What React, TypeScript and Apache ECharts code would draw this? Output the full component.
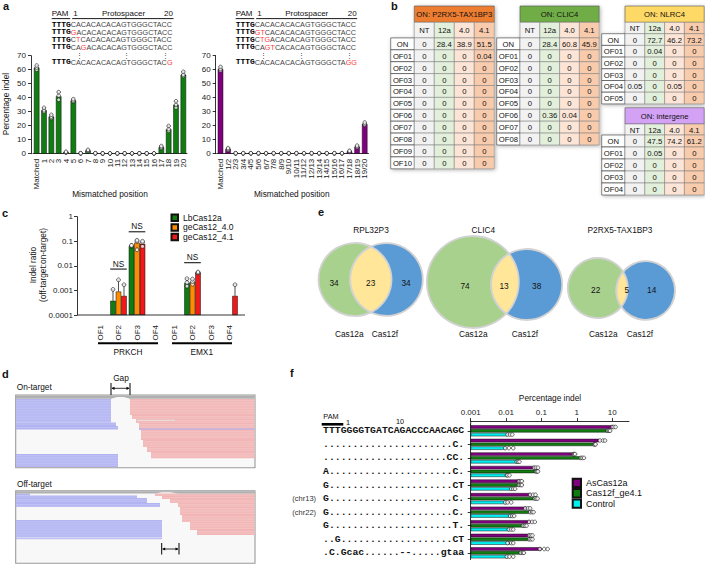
import React, { useEffect, useRef } from 'react';
import * as echarts from 'echarts';

const SANS = '"Liberation Sans", Arial, Helvetica, sans-serif';
const MONO = '"Liberation Mono", "Courier New", monospace';

const GREEN = '#0f7d0f';
const PURPLE = '#800080';
const ORANGE = '#ff8c00';
const RED = '#f01818';
const CYAN = '#00f0f0';

// ---------------- panel a ----------------
const aLeftCategories = ['Matched', '1', '2', '3', '4', '5', '6', '7', '8', '9', '10', '11', '12', '13', '14', '15', '16', '17', '18', '19', '20'];
const aLeftPercent = [61.5, 31, 26.5, 41, 1, 38, 0.3, 2.2, 0.3, 0.2, 0.2, 0.2, 0.2, 0.2, 0.2, 0.2, 0.2, 4.6, 17.5, 35, 56.5];
const aLeftReplicates = [
  [60, 61.5, 63], [30, 31, 32.8], [25.5, 26.5, 27.8], [38.5, 41.5, 44], [0.7, 1, 1.4], [37.3, 38, 39],
  [0.2, 0.3, 0.4], [1.8, 2.2, 2.8], [0.2, 0.3, 0.4], [0.1, 0.2, 0.3], [0.1, 0.2, 0.3], [0.1, 0.2, 0.3],
  [0.1, 0.2, 0.3], [0.1, 0.2, 0.3], [0.1, 0.2, 0.3], [0.1, 0.2, 0.3], [0.1, 0.2, 0.3],
  [4, 4.6, 5.5], [16.3, 17.5, 19.8], [33, 35, 37.5], [55.5, 56.5, 58.5],
];
const aRightCategories = ['Matched', '1/2', '2/3', '3/4', '4/5', '5/6', '6/7', '7/8', '8/9', '9/10', '10/11', '11/12', '12/13', '13/14', '14/15', '15/16', '16/17', '17/18', '18/19', '19/20'];
const aRightPercent = [60.5, 3.3, 0.3, 0.3, 0.3, 0.3, 0.3, 0.3, 0.3, 0.3, 0.3, 0.3, 0.3, 0.3, 0.3, 0.3, 0.3, 1.6, 5, 21.2];
const aRightReplicates = [
  [59.5, 60.5, 62], [2.6, 3.3, 4], [0.2, 0.3, 0.4], [0.2, 0.3, 0.4], [0.2, 0.3, 0.4], [0.2, 0.3, 0.4],
  [0.2, 0.3, 0.4], [0.2, 0.3, 0.4], [0.2, 0.3, 0.4], [0.2, 0.3, 0.4], [0.2, 0.3, 0.4], [0.2, 0.3, 0.4],
  [0.2, 0.3, 0.4], [0.2, 0.3, 0.4], [0.2, 0.3, 0.4], [0.2, 0.3, 0.4], [0.2, 0.3, 0.4],
  [1.2, 1.6, 2.1], [4.4, 5, 5.8], [20.5, 21.2, 22.3],
];
const pamSeq = 'TTTG';
const aLeftSeqRows = [
  ['CACACACACAGTGGGCTACC', '', ''],
  ['', 'G', 'ACACACACAGTGGGCTACC'],
  ['C', 'T', 'CACACACAGTGGGCTACC'],
  ['CA', 'G', 'ACACACAGTGGGCTACC'],
  null,
  ['CACACACACAGTGGGCTAC', 'G', ''],
];
const aRightSeqRows = [
  ['CACACACACAGTGGGCTACC', '', ''],
  ['', 'GT', 'CACACACAGTGGGCTACC'],
  ['C', 'TG', 'ACACACAGTGGGCTACC'],
  ['CA', 'GT', 'CACACAGTGGGCTACC'],
  null,
  ['CACACACACAGTGGGCTA', 'GG', ''],
];

// ---------------- panel b ----------------
const tableColumns = ['NT', '12a', '4.0', '4.1'];
const tP2rx5Title = 'ON: P2RX5-TAX1BP3';
const tP2rx5Rows = ['ON', 'OF01', 'OF02', 'OF03', 'OF04', 'OF05', 'OF06', 'OF07', 'OF08', 'OF09', 'OF10'];
const tP2rx5Values = [[0, 28.4, 38.9, 51.5], [0, 0, 0, 0.04], [0, 0, 0, 0], [0, 0, 0, 0], [0, 0, 0, 0], [0, 0, 0, 0], [0, 0, 0, 0], [0, 0, 0, 0], [0, 0, 0, 0], [0, 0, 0, 0], [0, 0, 0, 0]];
const tClic4Title = 'ON: CLIC4';
const tClic4Rows = ['ON', 'OF01', 'OF02', 'OF03', 'OF04', 'OF05', 'OF06', 'OF07', 'OF08'];
const tClic4Values = [[0, 28.4, 60.8, 45.9], [0, 0, 0, 0], [0, 0, 0, 0], [0, 0, 0, 0], [0, 0, 0, 0], [0, 0, 0, 0], [0, 0.36, 0.04, 0], [0, 0, 0, 0], [0, 0, 0, 0]];
const tNlrc4Title = 'ON: NLRC4';
const tNlrc4Rows = ['ON', 'OF01', 'OF02', 'OF03', 'OF04', 'OF05'];
const tNlrc4Values = [[0, 72.7, 46.2, 73.2], [0, 0.04, 0, 0], [0, 0, 0, 0], [0, 0, 0, 0], [0.05, 0, 0.05, 0], [0, 0, 0, 0]];
const tInterTitle = 'ON: intergene';
const tInterRows = ['ON', 'OF01', 'OF02', 'OF03', 'OF04'];
const tInterValues = [[0, 47.5, 74.2, 61.2], [0, 0.05, 0, 0], [0, 0, 0, 0], [0, 0, 0, 0], [0, 0, 0, 0]];

// ---------------- panel c ----------------
const cCategories = ['OF1', 'OF2', 'OF3', 'OF4', 'OF1', 'OF2', 'OF3', 'OF4'];
const cGenes = ['PRKCH', 'EMX1'];
const cLegendNames = ['LbCas12a', 'geCas12_4.0', 'geCas12_4.1'];
const cLbRatio = [null, 0.00038, 0.065, null, null, 0.002, null, null];
const c40Ratio = [null, 0.0009, 0.088, null, null, 0.0022, null, null];
const c41Ratio = [null, 0.0006, 0.079, null, null, 0.0053, null, 0.0006];
const cLbReps = [[], [0.0011], [0.063, 0.066, 0.068], [], [], [0.0015, 0.0021, 0.003], [], []];
const c40Reps = [[], [0.0027], [0.045, 0.1, 0.11], [], [], [0.0018, 0.0023, 0.0029], [], []];
const c41Reps = [[], [0.0017], [0.062, 0.09, 0.1], [], [], [0.005, 0.0053, 0.0056], [], [0.0017]];
const cNsMarks = [[1, 0.0074], [2, 0.243], [5, 0.0134]];

// ---------------- panel e ----------------
const vennTitles = ['RPL32P3', 'CLIC4', 'P2RX5-TAX1BP3'];
const vennCas12aOnly = [34, 74, 22];
const vennShared = [23, 13, 5];
const vennCas12fOnly = [34, 38, 14];

// ---------------- panel f ----------------
const fRowIds = ['r1', 'r2', 'r3', 'r4', 'r5', 'r6', 'r7', 'r8', 'r9', 'r10'];
const fSequences = [
  'TTTGGGGTGATCAGACCCAACAGC',
  '......................C.',
  '.....................CC.',
  'A.....................C.',
  'G.....................CT',
  'G.....................C.',
  'G.....................C.',
  'G.....................T.',
  '..G...................CT',
  '.C.Gcac......--.....gtaa',
];
const fChrTags = ['', '', '', '', '', '(chr13)', '(chr22)', '', '', ''];
const fLegendNames = ['AsCas12a', 'Cas12f_ge4.1', 'Control'];
const fAsCas12a = [10.2, 4.3, 0.83, 0.065, 0.024, 0.05, 0.038, 0.049, 0.047, 0.1];
const fCas12f = [7.7, 3.25, 1.37, 0.073, 0.025, 0.07, 0.05, 0.034, 0.047, 0.028];
const fControl = [0.011, 0.0099, 0.021, 0.0104, 0.015, 0.0104, 0.0144, 0.0123, 0.0129, 0.0115];
const fAsReps = [[10, 11, 12.5], [4.5, 5.5, 6.3], [0.8, 0.85, 0.9], [0.062, 0.07, 0.08], [0.023, 0.026, 0.028], [0.048, 0.058, 0.068], [0.035, 0.042, 0.048], [0.045, 0.055, 0.065], [0.045, 0.05, 0.056], [0.09, 0.12, 0.15]];
const fCas12fReps = [[7.5, 8.2, 8.8], [3.1, 3.3, 3.4], [1.3, 1.45, 1.6], [0.07, 0.075, 0.08], [0.023, 0.026, 0.028], [0.065, 0.072, 0.078], [0.048, 0.055, 0.06], [0.03, 0.034, 0.038], [0.045, 0.05, 0.056], [0.026, 0.03, 0.032]];
const fControlReps = [[0.011, 0.013, 0.015], [0.0095, 0.012, 0.016], [0.02, 0.022, 0.024], [0.0105, 0.011, 0.0125], [0.014, 0.016, 0.018], [0.0095, 0.011, 0.014], [0.013, 0.015, 0.017], [0.012, 0.014, 0.016], [0.011, 0.014, 0.016], [0.0105, 0.0125, 0.016]];
const fTicks = [0.001, 0.01, 0.1, 1, 10];

// ---------------- helpers ----------------
const txt = (x: number, y: number, text: string, o: any = {}) => ({
  type: 'text', x, y, rotation: o.rotation || 0, scaleX: o.scaleX || 1, z: 20,
  style: {
    text, fill: o.fill || '#111', fontSize: o.size || 8, fontFamily: o.family || SANS,
    fontWeight: o.weight || 'normal', textAlign: o.align || 'center', textVerticalAlign: o.valign || 'middle',
    ...(o.rich ? { rich: o.rich } : {}),
  },
});
const ln = (x1: number, y1: number, x2: number, y2: number, stroke = '#000', lineWidth = 0.8) => ({
  type: 'line', z: 15, shape: { x1, y1, x2, y2 }, style: { stroke, lineWidth },
});
const rc = (x: number, y: number, width: number, height: number, fill: string, stroke: any = null, lineWidth = 0.6, extra: any = {}) => ({
  type: 'rect', z: 12, shape: { x, y, width, height }, style: { fill, stroke, lineWidth, ...extra },
});
const logFmt = (v: number) => String(Number(Number(v).toPrecision(1)));

function vErr(dx: number) {
  return (_p: any, api: any) => {
    const i = api.value(0);
    const lo = api.coord([i, api.value(1)]);
    const hi = api.coord([i, api.value(2)]);
    const x = lo[0] + dx;
    return {
      type: 'group', children: [
        { type: 'line', shape: { x1: x, y1: lo[1], x2: x, y2: hi[1] }, style: { stroke: '#000', lineWidth: 0.7 } },
        { type: 'line', shape: { x1: x - 1.6, y1: hi[1], x2: x + 1.6, y2: hi[1] }, style: { stroke: '#000', lineWidth: 0.7 } },
      ],
    };
  };
}
const errData = (means: (number | null)[], reps: number[][]) =>
  means.map((m, i) => {
    if (m == null || !reps[i].length) return null;
    const hi = Math.max(...reps[i]);
    return hi > m ? [i, m, hi] : null;
  }).filter(Boolean);
const repPointsV = (reps: number[][]) => reps.flatMap((r, i) => r.map((v) => [i, v]));
const repPointsH = (reps: number[][]) => reps.flatMap((r, i) => r.map((v) => [v, i]));

function lensPoints(x1: number, y1: number, r1: number, x2: number, y2: number, r2: number) {
  const dx = x2 - x1, dy = y2 - y1, d = Math.hypot(dx, dy);
  const a = (r1 * r1 - r2 * r2 + d * d) / (2 * d);
  const base = Math.atan2(dy, dx);
  const al1 = Math.acos(a / r1);
  const al2 = Math.acos((d - a) / r2);
  const pts: number[][] = [];
  const N = 40;
  for (let i = 0; i <= N; i++) {
    const t = base - al1 + (2 * al1 * i) / N;
    pts.push([x1 + r1 * Math.cos(t), y1 + r1 * Math.sin(t)]);
  }
  const b2 = base + Math.PI;
  for (let i = 0; i <= N; i++) {
    const t = b2 - al2 + (2 * al2 * i) / N;
    pts.push([x2 + r2 * Math.cos(t), y2 + r2 * Math.sin(t)]);
  }
  return pts;
}

const colFills = ['#f2f2f2', '#e2efda', '#fce4d6', '#f8cbad'];
function tableEls(x0: number, top: number, labelW: number, colW: number, titleH: number, hdrH: number, rowH: number,
  title: string, titleColor: string, rows: string[], values: number[][]) {
  const els: any[] = [];
  const dataX = x0 + labelW;
  const totalW = colW * tableColumns.length;
  const bodyTop = top + titleH + hdrH;
  const shadow = { shadowBlur: 4, shadowColor: 'rgba(0,0,0,0.35)', shadowOffsetX: 1, shadowOffsetY: 1 };
  els.push(rc(x0, bodyTop, labelW + totalW, rows.length * rowH, '#fff', null, 0, shadow));
  els.push(rc(dataX, top, totalW, titleH + hdrH, '#fff', null, 0, shadow));
  els.push(rc(dataX, top, totalW, titleH, titleColor, '#555', 0.6));
  els.push(txt(dataX + totalW / 2, top + titleH / 2 + 0.5, title, { size: 7.7 }));
  tableColumns.forEach((c, j) => {
    els.push(rc(dataX + j * colW, top + titleH, colW, hdrH, colFills[j], '#777', 0.5));
    els.push(txt(dataX + j * colW + colW / 2, top + titleH + hdrH / 2 + 0.5, c, { size: 7.7 }));
  });
  rows.forEach((r, i) => {
    const y = bodyTop + i * rowH;
    els.push(rc(x0, y, labelW, rowH, '#fff', '#333', 0.6));
    els.push(txt(x0 + labelW / 2, y + rowH / 2 + 0.5, r, { size: 7.7 }));
    values[i].forEach((v, j) => {
      els.push(rc(dataX + j * colW, y, colW, rowH, colFills[j], '#777', 0.5));
      els.push(txt(dataX + j * colW + colW / 2, y + rowH / 2 + 0.5, String(v), { size: 7.7 }));
    });
  });
  return els;
}

function readBlock(x0: number, y0: number, x1: number, y1: number, color: string) {
  const els: any[] = [rc(x0, y0, x1 - x0, y1 - y0, color)];
  for (let y = y0 + 1.6; y < y1 - 0.4; y += 1.6) els.push(ln(x0, y, x1, y, 'rgba(255,255,255,0.45)', 0.4));
  return els;
}
function dblArrow(xa: number, xb: number, y: number, yTop: number, yBot: number) {
  return [
    ln(xa, yTop, xa, yBot, '#000', 1), ln(xb, yTop, xb, yBot, '#000', 1), ln(xa + 1, y, xb - 1, y, '#000', 0.8),
    { type: 'polygon', z: 15, shape: { points: [[xa + 0.5, y], [xa + 3.5, y - 1.6], [xa + 3.5, y + 1.6]] }, style: { fill: '#000' } },
    { type: 'polygon', z: 15, shape: { points: [[xb - 0.5, y], [xb - 3.5, y - 1.6], [xb - 3.5, y + 1.6]] }, style: { fill: '#000' } },
  ];
}

const seqRich = {
  b: { fontFamily: MONO, fontWeight: 'bold', fontSize: 7.2, fill: '#000', lineHeight: 7 },
  n: { fontFamily: SANS, fontSize: 6.5, fill: '#444', lineHeight: 7 },
  r: { fontFamily: SANS, fontSize: 6.5, fill: '#ff3b3b', lineHeight: 7 },
};
function seqText(row: string[]) {
  const [pre, mis, post] = row;
  return `{b|${pamSeq}}` + (pre ? `{n|${pre}}` : '') + (mis ? `{r|${mis}}` : '') + (post ? `{n|${post}}` : '');
}
const seqRowY = [25, 32.3, 39.7, 47.3, 55, 62.3];

function buildGraphic() {
  const g: any[] = [];
  // panel letters
  g.push(txt(3, 6, 'a', { size: 11, weight: 'bold', align: 'left' }));
  g.push(txt(391, 6, 'b', { size: 11, weight: 'bold', align: 'left' }));
  g.push(txt(2, 213, 'c', { size: 11, weight: 'bold', align: 'left' }));
  g.push(txt(318, 212, 'e', { size: 11, weight: 'bold', align: 'left' }));
  g.push(txt(2, 374, 'd', { size: 11, weight: 'bold', align: 'left' }));
  g.push(txt(290, 373, 'f', { size: 11, weight: 'bold', align: 'left' }));

  // panel a sequences
  const seqBlock = (x0: number, rows: any[], dotsX: number[], protoCx: number, endX: number) => {
    g.push(txt(x0, 13.5, 'PAM', { align: 'left', size: 8 }));
    g.push(txt(x0 + 21.5, 13.5, '1', { align: 'left', size: 8 }));
    g.push(txt(protoCx, 13.5, 'Protospacer', { size: 8 }));
    g.push(txt(endX, 13.5, '20', { align: 'right', size: 8 }));
    g.push(ln(x0, 18.6, x0 + 18.5, 18.6, '#000', 0.9));
    g.push(ln(x0 + 20.5, 18.6, endX + 0.5, 18.6, '#000', 0.9));
    rows.forEach((r: any, i: number) => {
      if (!r) {
        dotsX.forEach((dx) => g.push(txt(dx, seqRowY[i], '⋮', { size: 6.5, fill: '#444' })));
      } else {
        g.push(txt(x0, seqRowY[i], seqText(r), { align: 'left', rich: seqRich, scaleX: 1.11 }));
      }
    });
  };
  seqBlock(51.7, aLeftSeqRows, [79, 126.7, 165], 123.5, 173);
  seqBlock(235.7, aRightSeqRows, [263.3, 301.7, 349], 306.7, 356.7);
  g.push(txt(6, 104, 'Percentage indel', { rotation: Math.PI / 2, size: 8.3 }));
  g.push(txt(110, 193.5, 'Mismatched position', { size: 8.3 }));
  g.push(txt(291.7, 193.5, 'Mismatched position', { size: 8.3 }));

  // panel b tables
  g.push(...tableEls(390.7, 6, 23.6, 20, 16.3, 15.6, 11.9, tP2rx5Title, '#ed7d31', tP2rx5Rows, tP2rx5Values));
  g.push(...tableEls(496.7, 6, 23.3, 19.8, 16.3, 15.6, 11.9, tClic4Title, '#70ad47', tClic4Rows, tClic4Values));
  g.push(...tableEls(601.7, 6, 23.3, 19.8, 16.3, 11.4, 11.7, tNlrc4Title, '#ffd966', tNlrc4Rows, tNlrc4Values));
  g.push(...tableEls(601.7, 107.7, 23.3, 19.8, 16.3, 11, 12, tInterTitle, '#d3a2f5', tInterRows, tInterValues));

  // panel c decorations
  g.push(ln(77, 315, 245, 315, '#000', 0.8));
  g.push(txt(33, 265, 'Indel ratio', { rotation: Math.PI / 2, size: 8.3 }));
  g.push(txt(43, 265, '(off-target:on-target)', { rotation: Math.PI / 2, size: 8.3 }));
  g.push(ln(98, 343.3, 158, 343.3, '#000', 2));
  g.push(ln(172, 343.3, 232, 343.3, '#000', 2));
  g.push(txt(128, 352, cGenes[0], { size: 8.3 }));
  g.push(txt(201.7, 352, cGenes[1], { size: 8.3 }));

  // panel d
  const boxes = [
    { top: 395, bottom: 467.7 },
    { top: 490.7, bottom: 563.3 },
  ];
  boxes.forEach((b) => g.push(rc(15.7, b.top, 239.3, b.bottom - b.top, '#f8f8f8', '#9a9a9a', 1.1)));
  g.push({ type: 'polygon', z: 13, shape: { points: [[16, 395.5], [254.5, 395.5], [254.5, 398.8], [130, 398.8], [124, 397], [117, 397], [111, 398.8], [16, 398.8]] }, style: { fill: '#b0b0b0' } });
  g.push({ type: 'polygon', z: 13, shape: { points: [[16, 491.2], [254.5, 491.2], [254.5, 493.5], [178, 493.5], [170, 492.3], [162, 492.3], [155, 493.5], [16, 493.5]] }, style: { fill: '#b0b0b0' } });
  const BLUE_R = '#b2b4f2';
  const RED_R = '#f2b5b5';
  // on-target reads
  g.push(...readBlock(16, 399, 111, 422.5, BLUE_R));
  g.push(...readBlock(16, 422.5, 116, 426, BLUE_R));
  g.push(...readBlock(16, 426, 118, 429.5, BLUE_R));
  g.push(...readBlock(16, 454, 118, 467, BLUE_R));
  [[399, 415, 130], [415, 419, 132], [419, 423, 136], [423, 430, 139], [430, 440, 141], [440, 447, 143], [447, 452, 147], [452, 458.3, 151]]
    .forEach(([a, b, x]) => g.push(...readBlock(x, a, 254.5, b, RED_R)));
  g.push(ln(139, 429, 254.5, 429, '#a9abf0', 1));
  g.push(ln(137, 420.3, 175, 420.3, '#e4e4e4', 1));
  // off-target reads
  g.push(...readBlock(16, 493.5, 30, 495.5, BLUE_R));
  g.push(...readBlock(16, 495.5, 137, 498, BLUE_R));
  g.push(...readBlock(16, 498, 147, 503, BLUE_R));
  g.push(...readBlock(16, 503, 160, 507, BLUE_R));
  g.push(...readBlock(16, 520, 162, 537.5, BLUE_R));
  g.push(ln(16, 538.7, 162, 538.7, '#a9abf0', 0.9));
  [[493.5, 496, 155], [496, 499, 162], [499, 503, 170], [503, 507, 178], [507, 515, 180], [515, 522, 182], [522, 530, 190], [530, 535, 197]]
    .forEach(([a, b, x]) => g.push(...readBlock(x, a, 254.5, b, RED_R)));
  g.push(txt(16.7, 386.7, 'On-target', { align: 'left', size: 8.3 }));
  g.push(txt(17, 484, 'Off-target', { align: 'left', size: 8.3 }));
  g.push(txt(121, 378, 'Gap', { size: 8.3 }));
  g.push(...dblArrow(111, 130, 388.3, 383, 395));
  g.push(...dblArrow(161.7, 179, 549, 543, 554.5));

  // panel e venn
  const vennLayout = [
    { a: [355, 279.5, 36.5], f: [386.5, 279.5, 36.3], tx: 371, nums: [334, 370.7, 406], ny: 283.3, lab: [349.3, 385] },
    { a: [472.8, 282, 46], f: [526.7, 284.5, 35.5], tx: 483.3, nums: [465, 504, 536.7], ny: 286, lab: [473.3, 525] },
    { a: [597.8, 288, 30], f: [645.7, 290.5, 29.3], tx: 620, nums: [595.7, 626.7, 651.7], ny: 290, lab: [603.3, 640] },
  ];
  vennLayout.forEach((v, i) => {
    g.push({ type: 'circle', z: 12, shape: { cx: v.a[0], cy: v.a[1], r: v.a[2] }, style: { fill: '#a9d18e', stroke: '#d2d2d2', lineWidth: 1.8 } });
    g.push({ type: 'circle', z: 12, shape: { cx: v.f[0], cy: v.f[1], r: v.f[2] }, style: { fill: '#5b9bd5', stroke: '#d2d2d2', lineWidth: 1.8 } });
    g.push({ type: 'polygon', z: 13, shape: { points: lensPoints(v.a[0], v.a[1], v.a[2], v.f[0], v.f[1], v.f[2]) }, style: { fill: '#ffe699', stroke: '#d2d2d2', lineWidth: 1.8 } });
    g.push(txt(v.tx, 230, vennTitles[i], { size: 8.3 }));
    g.push(txt(v.nums[0], v.ny, String(vennCas12aOnly[i]), { size: 8.3 }));
    g.push(txt(v.nums[1], v.ny, String(vennShared[i]), { size: 8.3 }));
    g.push(txt(v.nums[2], v.ny, String(vennCas12fOnly[i]), { size: 8.3 }));
    g.push(txt(v.lab[0], 334.3, 'Cas12a', { size: 8.3 }));
    g.push(txt(v.lab[1], 334.3, 'Cas12f', { size: 8.3 }));
  });

  // panel f header
  g.push(txt(550, 397.7, 'Percentage indel', { size: 8.3 }));
  g.push(txt(331, 416, 'PAM', { size: 7.3 }));
  g.push(ln(321.7, 424.3, 343.3, 424.3, '#000', 2.6));
  g.push(txt(346, 422, '1', { align: 'left', size: 7.3 }));
  g.push(txt(400, 421.7, '10', { size: 7.3 }));
  g.push(ln(470.7, 420.6, 470.7, 424.5, '#000', 0.8));
  return g;
}

function buildOption() {
  const axisLine = { show: true, onZero: false, lineStyle: { color: '#000', width: 0.8 } };
  const axisTick = { show: true, length: 3, lineStyle: { color: '#000', width: 0.8 } };
  const lbl = { color: '#1a1a1a', fontSize: 8, fontFamily: SANS };
  const barStyle = (color: string) => ({ color, borderColor: '#111', borderWidth: 0.5 });
  const dot = { color: '#fff', borderColor: '#000', borderWidth: 0.7 };
  const nz = (arr: (number | null)[]) => arr.map((v) => (v == null ? '-' : v));

  const series: any[] = [
    { name: 'aLeftBars', type: 'bar', xAxisIndex: 0, yAxisIndex: 0, data: aLeftPercent, barWidth: 5.5, itemStyle: barStyle(GREEN) },
    { type: 'custom', xAxisIndex: 0, yAxisIndex: 0, renderItem: vErr(0), data: errData(aLeftPercent, aLeftReplicates), z: 3 },
    { type: 'scatter', xAxisIndex: 0, yAxisIndex: 0, data: repPointsV(aLeftReplicates), symbolSize: 3.6, itemStyle: dot, z: 4 },
    { name: 'aRightBars', type: 'bar', xAxisIndex: 1, yAxisIndex: 1, data: aRightPercent, barWidth: 5.5, itemStyle: barStyle(PURPLE) },
    { type: 'custom', xAxisIndex: 1, yAxisIndex: 1, renderItem: vErr(0), data: errData(aRightPercent, aRightReplicates), z: 3 },
    { type: 'scatter', xAxisIndex: 1, yAxisIndex: 1, data: repPointsV(aRightReplicates), symbolSize: 3.6, itemStyle: dot, z: 4 },
  ];
  const cSets = [
    { name: cLegendNames[0], vals: cLbRatio, reps: cLbReps, color: GREEN, dx: -5.5 },
    { name: cLegendNames[1], vals: c40Ratio, reps: c40Reps, color: ORANGE, dx: 0 },
    { name: cLegendNames[2], vals: c41Ratio, reps: c41Reps, color: RED, dx: 5.5 },
  ];
  cSets.forEach((s) => {
    series.push({ name: s.name, type: 'bar', xAxisIndex: 2, yAxisIndex: 2, data: nz(s.vals), barWidth: 5.5, barGap: '0%', itemStyle: barStyle(s.color) });
  });
  cSets.forEach((s) => {
    series.push({ type: 'custom', xAxisIndex: 2, yAxisIndex: 2, renderItem: vErr(s.dx), data: errData(s.vals, s.reps), z: 3 });
    series.push({ type: 'scatter', xAxisIndex: 2, yAxisIndex: 2, data: repPointsV(s.reps), symbolSize: 3.8, symbolOffset: [s.dx, 0], itemStyle: dot, z: 4 });
  });
  series.push({
    type: 'custom', xAxisIndex: 2, yAxisIndex: 2, data: cNsMarks, z: 5,
    renderItem: (_p: any, api: any) => {
      const pt = api.coord([api.value(0), api.value(1)]);
      return {
        type: 'group', children: [
          { type: 'line', shape: { x1: pt[0] - 8.3, y1: pt[1], x2: pt[0] + 8.3, y2: pt[1] }, style: { stroke: '#000', lineWidth: 1 } },
          { type: 'text', x: pt[0], y: pt[1] - 5.5, style: { text: 'NS', fill: '#111', fontSize: 8.3, fontFamily: SANS, textAlign: 'center', textVerticalAlign: 'middle' } },
        ],
      };
    },
  });
  const fSets = [
    { name: fLegendNames[0], vals: fAsCas12a, reps: fAsReps, color: PURPLE, dy: -3.8 },
    { name: fLegendNames[1], vals: fCas12f, reps: fCas12fReps, color: GREEN, dy: 0 },
    { name: fLegendNames[2], vals: fControl, reps: fControlReps, color: CYAN, dy: 3.8 },
  ];
  fSets.forEach((s) => {
    series.push({ name: s.name, type: 'bar', xAxisIndex: 3, yAxisIndex: 3, data: s.vals, barWidth: 3.4, barGap: '12%', itemStyle: barStyle(s.color) });
  });
  fSets.forEach((s) => {
    series.push({ type: 'scatter', xAxisIndex: 3, yAxisIndex: 3, data: repPointsH(s.reps), symbolSize: 3.6, symbolOffset: [0, s.dy], itemStyle: dot, z: 4 });
  });

  return {
    animation: false,
    backgroundColor: '#fff',
    textStyle: { fontFamily: SANS },
    grid: [
      { left: 33, top: 55.7, width: 154, height: 98 },
      { left: 216.7, top: 55.7, width: 151.8, height: 98 },
      { left: 90.75, top: 216.7, width: 148, height: 98.3 },
      { left: 470.7, top: 424, width: 158.3, height: 135.6 },
    ],
    xAxis: [
      { gridIndex: 0, type: 'category', data: aLeftCategories, axisLine, axisTick: { show: false }, axisLabel: { ...lbl, rotate: 90, interval: 0, margin: 5 } },
      { gridIndex: 1, type: 'category', data: aRightCategories, axisLine, axisTick: { show: false }, axisLabel: { ...lbl, rotate: 90, interval: 0, margin: 5 } },
      { gridIndex: 2, type: 'category', data: cCategories, axisLine: { show: false }, axisTick: { show: false }, axisLabel: { ...lbl, rotate: 90, interval: 0, margin: 10 } },
      {
        gridIndex: 3, type: 'log', logBase: 10, position: 'top', offset: 3, min: 0.001, max: 30, startValue: 0.001,
        axisLine, axisTick: { ...axisTick, customValues: fTicks }, axisLabel: { ...lbl, margin: 5, customValues: fTicks, formatter: logFmt },
        splitLine: { show: false },
      },
    ],
    yAxis: [
      { gridIndex: 0, type: 'value', min: 0, max: 70, interval: 10, offset: 2, axisLine, axisTick, axisLabel: { ...lbl, margin: 5 }, splitLine: { show: false } },
      { gridIndex: 1, type: 'value', min: 0, max: 70, interval: 10, offset: 1, axisLine, axisTick, axisLabel: { ...lbl, margin: 5 }, splitLine: { show: false } },
      { gridIndex: 2, type: 'log', logBase: 10, min: 0.0001, max: 1, startValue: 0.0001, offset: 13.75, axisLine, axisTick, axisLabel: { ...lbl, margin: 4, formatter: logFmt }, splitLine: { show: false } },
      {
        gridIndex: 3, type: 'category', inverse: true, data: fRowIds, axisLine, axisTick: { ...axisTick, alignWithLabel: true },
        axisLabel: {
          margin: 6.5, interval: 0,
          formatter: (_v: string, i: number) => (fChrTags[i] ? `{c|${fChrTags[i]}}` : '') + `{s|${fSequences[i]}}`,
          rich: {
            s: { fontFamily: MONO, fontWeight: 'bold', fontSize: 9.8, color: '#111' },
            c: { fontFamily: SANS, fontSize: 7.5, color: '#333', padding: [0, 7, 0, 0] },
          },
        },
      },
    ],
    legend: [
      {
        data: cLegendNames, orient: 'vertical', left: 170.5, top: 213, itemWidth: 6.5, itemHeight: 6.5, itemGap: 0,
        icon: 'rect', padding: 0, selectedMode: false, textStyle: { fontSize: 8.5, lineHeight: 9.6, fontFamily: SANS, color: '#111' },
      },
      {
        data: fLegendNames, orient: 'vertical', left: 571.7, top: 477.8, itemWidth: 8.3, itemHeight: 8.3, itemGap: 0,
        icon: 'rect', padding: 0, selectedMode: false, textStyle: { fontSize: 9, lineHeight: 10, fontFamily: SANS, color: '#111' },
      },
    ],
    series,
    graphic: buildGraphic(),
  };
}

export default function App() {
  const ref = useRef<HTMLDivElement>(null);
  useEffect(() => {
    if (!ref.current) return;
    const chart = echarts.init(ref.current, undefined, { renderer: 'svg', width: 705, height: 564 });
    chart.setOption(buildOption() as any);
    return () => chart.dispose();
  }, []);
  return <div ref={ref} style={{ position: 'fixed', left: 0, top: 0, width: 705, height: 564, background: '#fff' }} />;
}
